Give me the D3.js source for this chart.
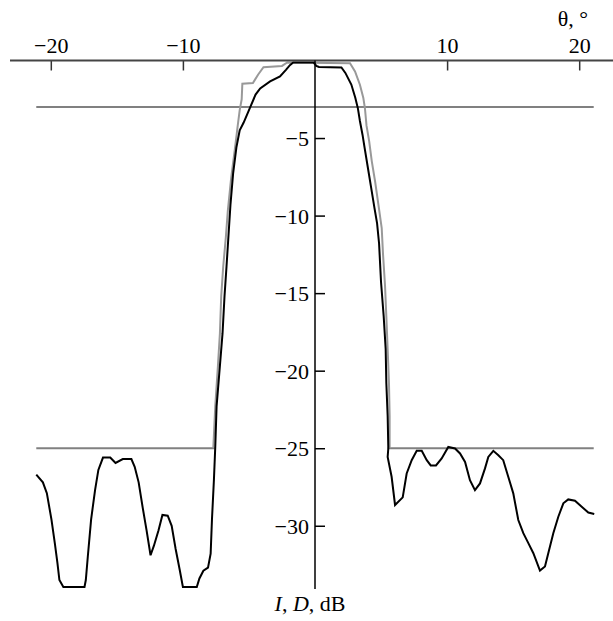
<!DOCTYPE html>
<meta charset="utf-8">
<style>
    body { margin: 0; background: #fff; }
    text { font-family: "Liberation Serif", "Times New Roman", serif; font-size: 22px; fill: #000; }
</style>
<body>
<svg width="613" height="621"></svg>
</body>
<script src="https://d3js.org/d3.v7.min.js"></script>
<script>
    // measured pattern D (black), theta in degrees, level in dB
    const thetaD = [-21.1, -20.6, -20.3, -19.95, -19.7, -19.5, -19.35, -19.05, -17.45, -17.35, -17.2, -16.95, -16.65, -16.4,
        -16.05, -15.5, -15.1, -14.55, -13.9, -13.65, -13.35, -13.05, -12.75, -12.45, -12.2, -11.85, -11.55, -11.15, -10.85,
        -10.55, -10.25, -10.0, -8.95, -8.75, -8.45, -8.1, -7.9, -7.8, -7.65, -7.55, -7.45, -7.2, -7.0, -6.85, -6.7, -6.55,
        -6.4, -6.2, -5.95, -5.7, -5.4, -4.95, -4.5, -4.15, -3.4, -2.65, -2.2, -1.9, -1.65, -0.1, 0.1, 0.3, 2.0, 2.3, 2.75,
        3.05, 3.25, 3.4, 3.6, 3.75, 4.0, 4.25, 4.5, 4.7, 4.85, 5.0, 5.2, 5.35, 5.4, 5.5, 5.55, 5.5, 5.8, 6.06, 6.64, 6.94,
        7.32, 7.7, 8.08, 8.46, 8.76, 9.16, 9.59, 10.09, 10.6, 10.98, 11.36, 11.73, 12.11, 12.49, 12.87, 13.12, 13.5, 13.88,
        14.25, 14.63, 15.01, 15.39, 15.77, 16.15, 16.53, 17.03, 17.41, 17.66, 18.04, 18.42, 18.8, 19.17, 19.68, 20.19,
        20.69, 21.14];
    const levelD = [-26.7, -27.2, -27.9, -29.6, -31.1, -32.4, -33.5, -33.95, -33.95, -33.5, -32.0, -29.6, -27.7, -26.4,
        -25.6, -25.6, -25.95, -25.7, -25.7, -26.2, -27.2, -28.8, -30.3, -31.9, -31.3, -30.3, -29.3, -29.35, -30.0,
        -31.5, -32.8, -33.95, -33.95, -33.4, -32.9, -32.7, -31.8, -29.6, -27.0, -24.9, -22.3, -19.7, -17.6, -15.2, -13.3, -11.3,
        -9.3, -7.3, -5.6, -4.5, -4.0, -3.1, -2.2, -1.8, -1.35, -1.03, -0.6, -0.3, -0.13, -0.13, -0.35, -0.42, -0.45, -0.8, -1.55,
        -2.4, -3.1, -3.9, -4.8, -5.6, -6.9, -8.2, -9.5, -10.5, -11.8, -14.3, -16.5, -18.6, -20.8, -22.9, -25.0, -25.56, -26.84, -28.66, -28.17, -26.63,
        -25.77, -25.17, -25.17, -25.77, -26.11, -26.11, -25.66, -24.92, -25.02, -25.34, -25.88, -27.06, -27.7, -27.27, -26.3, -25.56, -25.17, -25.45,
        -25.77, -26.84, -27.91, -29.63, -30.48, -31.12, -31.77, -32.89, -32.63, -31.77, -30.48, -29.42, -28.55, -28.3, -28.39, -28.77,
        -29.15, -29.24];

    // pattern I (gray), main lobe only
    const thetaI = [-7.7, -7.55, -7.35, -7.2, -7.1, -6.95, -6.75, -6.6, -6.35, -6.05, -5.85, -5.7, -5.55, -5.5, -4.7, -4.3,
        -3.9, -2.5, -2.1, 2.65, 3.03, 3.4, 3.66, 3.78, 3.9, 4.1, 4.3, 4.55, 4.8, 5.05, 5.15, 5.3, 5.4, 5.5, 5.6, 5.65, 5.65];
    const levelI = [-25.0, -22.3, -19.7, -17.6, -15.2, -13.3, -11.4, -9.7, -7.6, -5.6, -4.2, -3.2, -2.5, -1.5, -1.45, -0.9,
        -0.43, -0.35, -0.13, -0.17, -0.71, -1.56, -2.42, -3.08, -4.2, -5.2, -6.5, -7.8, -9.3, -10.8, -12.5, -14.5, -16.5, -18.6,
        -20.8, -22.9, -25.0];

    // mask lines: [theta from, theta to, level]
    const maskLines = [[-21.1, 21.1, -3], [-21.1, -7.6, -25], [5.5, 21.1, -25]];

    const xTicks = [-20, -10, 10, 20];
    const yTicks = [-5, -10, -15, -20, -25, -30];

    const svg = d3.select("svg");

    const x = d3.scaleLinear().domain([-21, 21]).range([37.6, 592.4]);
    const y = d3.scaleLinear().domain([-34, 0]).range([587.8, 60.5]);
    const minus = d => d < 0 ? "\u2212" + (-d) : "" + d;

    const line = d3.line().x(d => x(d[0])).y(d => y(d[1]));

    // mask lines
    svg.append("g")
        .selectAll("line")
        .data(maskLines)
        .enter().append("line")
        .attr("x1", d => x(d[0]))
        .attr("x2", d => x(d[1]))
        .attr("y1", d => y(d[2]))
        .attr("y2", d => y(d[2]))
        .attr("stroke", "#808080")
        .attr("stroke-width", 2);

    svg.append("path")
        .datum(d3.zip(thetaI, levelI))
        .attr("d", line)
        .attr("fill", "none")
        .attr("stroke", "#999")
        .attr("stroke-width", 2);

    svg.append("path")
        .datum(d3.zip(thetaD, levelD))
        .attr("d", line)
        .attr("fill", "none")
        .attr("stroke", "#000")
        .attr("stroke-width", 2);

    // x axis (ticks down, labels above)
    const gx = svg.append("g")
        .attr("transform", "translate(0," + y(0) + ")")
        .call(d3.axisBottom(x).tickValues(xTicks).tickSize(10).tickFormat(minus));
    gx.select(".domain").remove();
    gx.selectAll(".tick line").attr("stroke", "#333").attr("stroke-width", 1.5);
    gx.selectAll("text").attr("y", -8).attr("dy", 0);
    gx.attr("font-size", null).attr("font-family", null);
    gx.append("line")
        .attr("x1", 10).attr("x2", 613)
        .attr("stroke", "#444").attr("stroke-width", 2);

    // y axis
    const gy = svg.append("g")
        .attr("transform", "translate(" + x(0) + ",0)")
        .call(d3.axisRight(y).tickValues(yTicks).tickSize(10).tickFormat(minus));
    gy.select(".domain").remove();
    gy.selectAll(".tick line").attr("stroke", "#000").attr("stroke-width", 1.5);
    gy.selectAll("text").attr("x", -6).attr("dy", "0.35em").attr("text-anchor", "end");
    gy.attr("font-size", null).attr("font-family", null);
    gy.append("line")
        .attr("y1", y(0)).attr("y2", 589)
        .attr("stroke", "#000").attr("stroke-width", 1.5);

    svg.append("text")
        .attr("x", 573).attr("y", 26)
        .attr("text-anchor", "middle")
        .text("θ, °");

    const lab = svg.append("text")
        .attr("x", 310).attr("y", 611)
        .attr("text-anchor", "middle");
    lab.append("tspan").attr("font-style", "italic").text("I");
    lab.append("tspan").text(", ");
    lab.append("tspan").attr("font-style", "italic").text("D");
    lab.append("tspan").text(", dB");
</script>
